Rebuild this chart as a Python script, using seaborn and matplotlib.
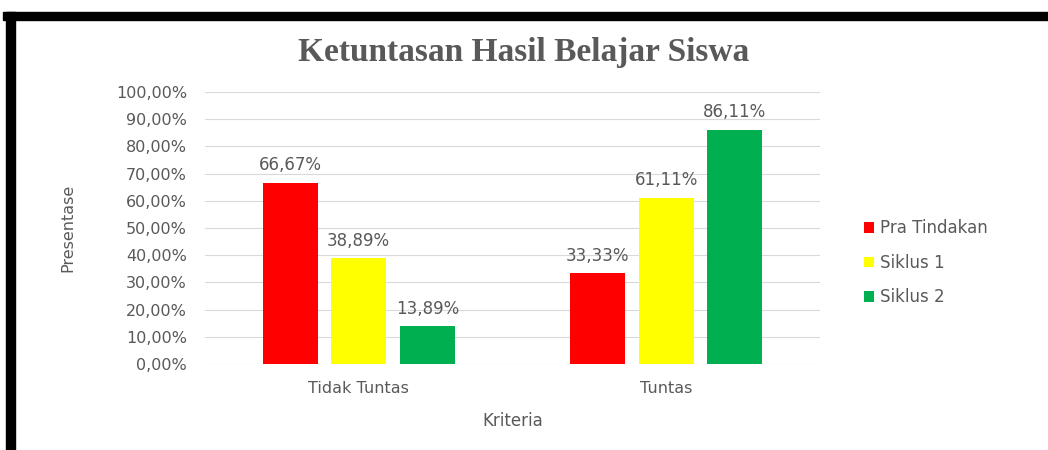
import numpy as np
import matplotlib
matplotlib.use("Agg")
import matplotlib.pyplot as plt
import pandas as pd
import seaborn as sns
from matplotlib.patches import Rectangle
from matplotlib.ticker import FuncFormatter

# Data
categories = ["Tidak Tuntas", "Tuntas"]
series = ["Pra Tindakan", "Siklus 1", "Siklus 2"]
pra_tindakan = [66.67, 33.33]
siklus_1 = [38.89, 61.11]
siklus_2 = [13.89, 86.11]
colors = ["#FF0000", "#FFFF00", "#00B050"]

rows = []
for name, vals in zip(series, [pra_tindakan, siklus_1, siklus_2]):
    for cat, v in zip(categories, vals):
        rows.append({"Kriteria": cat, "Presentase": v, "Seri": name})
df = pd.DataFrame(rows)

sns.set_style("white")
plt.rcParams['font.family'] = ['DejaVu Sans']
grey = "#595959"

fig = plt.figure(figsize=(10.48, 4.5), dpi=100)
ax = fig.add_axes([0.1956, 0.1911, 0.5868, 0.6045])

sns.barplot(data=df, x="Kriteria", y="Presentase", hue="Seri",
            palette=colors, width=0.67, gap=0.2, ax=ax, saturation=1,
            linewidth=0)

def pct(v):
    return f"{v:.2f}".replace(".", ",") + "%"

for cont in ax.containers:
    ax.bar_label(cont, labels=[pct(b.get_height()) for b in cont],
                 padding=6, color=grey, fontsize=12)

ax.set_ylim(0, 100)
ax.set_xlim(-0.5, 1.5)
ax.set_yticks(np.arange(0, 101, 10))
ax.yaxis.set_major_formatter(FuncFormatter(lambda v, p: pct(v)))
ax.grid(axis="y", color="#D9D9D9", lw=0.8)
ax.set_axisbelow(True)
for s in ax.spines.values():
    s.set_visible(False)
ax.tick_params(axis="y", length=0, pad=13, labelsize=11.5, labelcolor=grey)
ax.tick_params(axis="x", length=0, pad=12, labelsize=11.5, labelcolor=grey)

ax.set_ylabel("Presentase", color=grey, fontsize=11.5)
ax.yaxis.set_label_coords(-0.21, 0.5)
ax.set_xlabel("Kriteria", color=grey, fontsize=12)
ax.xaxis.set_label_coords(0.5, -0.175)

handles, labels = ax.get_legend_handles_labels()
ax.legend(handles, labels, loc="center left", bbox_to_anchor=(0.81, 0.416),
          bbox_transform=fig.transFigure, frameon=False, fontsize=12,
          handlelength=0.6, handleheight=0.6, handletextpad=0.35,
          labelspacing=1.0, labelcolor=grey)

fig.text(0.5, 0.884, "Ketuntasan Hasil Belajar Siswa", ha="center", va="center",
         fontsize=24, fontweight="bold", color=grey, family="Liberation Serif")

# black frame
fig.patches.append(Rectangle((3 / 1048, 1 - 20 / 450), 1, 8 / 450,
                             transform=fig.transFigure, color="black", zorder=10))
fig.patches.append(Rectangle((6 / 1048, 0), 9 / 1048, 1 - 12 / 450,
                             transform=fig.transFigure, color="black", zorder=10))

fig.savefig("out.png", dpi=100)
